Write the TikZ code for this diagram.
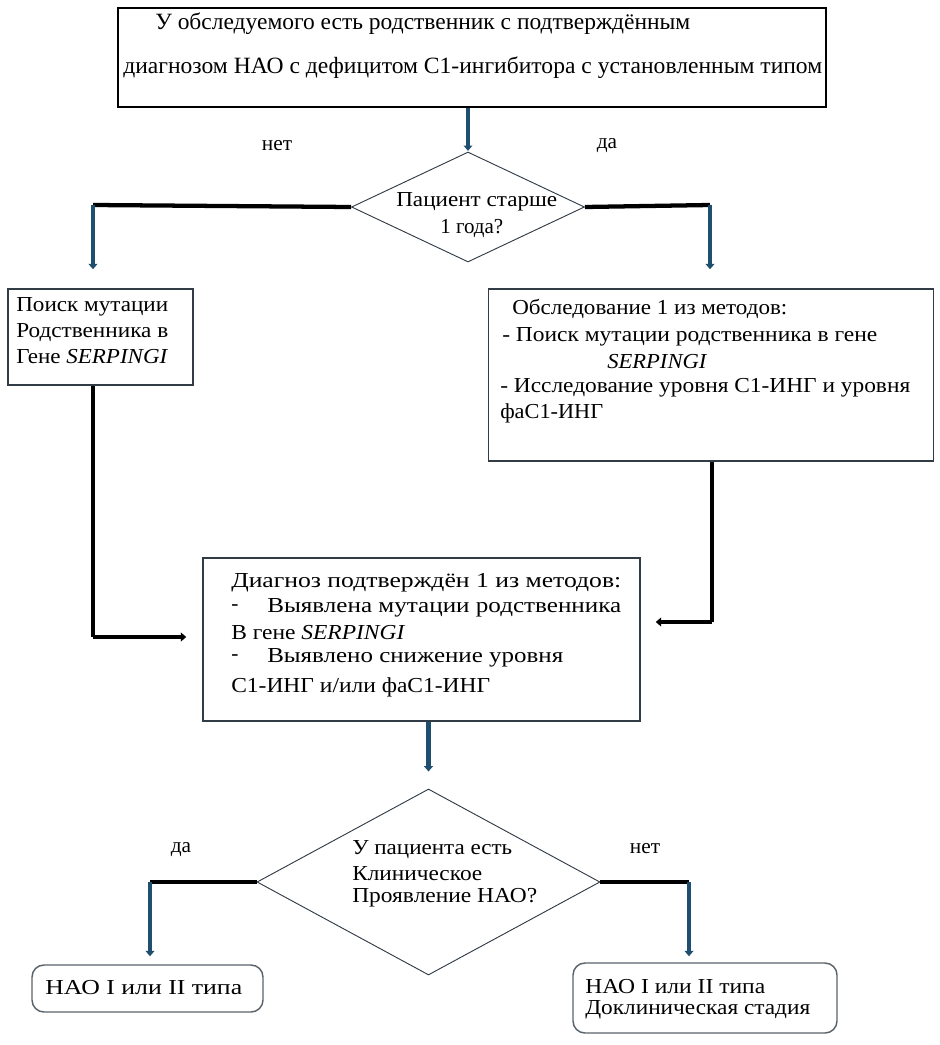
\documentclass[tikz,border=0pt]{standalone}
\usepackage{fontspec}
\usepackage{graphicx}
\setmainfont{Liberation Serif}
\usetikzlibrary{arrows.meta,shapes.geometric}
\definecolor{tealline}{RGB}{31,78,110}
\definecolor{boxline}{RGB}{50,60,70}
% place text between x-positions #1 and #2 (pixels), stretched horizontally only
\newcommand{\fw}[3]{\resizebox{\dimexpr(#2pt-#1pt)*3/4\relax}{\height}{#3}}
\tikzset{
  px/.style={x=0.75pt,y=-0.75pt},
  box/.style={draw=boxline,line width=1.1pt,inner sep=0pt},
  topbox/.style={draw=black,line width=1.2pt,inner sep=0pt},
  rbox/.style={draw=boxline!80,line width=1.1pt,rounded corners=9pt,inner sep=0pt},
  dia/.style={diamond,draw=boxline,line width=0.7pt,inner sep=0pt},
  txt/.style={anchor=west,inner sep=0pt,font=\fontsize{16}{18}\selectfont},
  lbl/.style={inner sep=0pt,font=\fontsize{16}{18}\selectfont},
  blk/.style={draw=black,line width=3.2pt},
  tarr/.style={draw=tealline,line width=3.6pt,-{Triangle[length=4pt,width=6.5pt]}},
  barr/.style={draw=black,line width=3.2pt,-{Triangle[length=4pt,width=6.5pt]}},
}
\begin{document}
\begin{tikzpicture}[px]
\useasboundingbox (0,0) rectangle (939,1045);
% boxes
\node[topbox,minimum width={708*0.75pt},minimum height={99*0.75pt}] (top) at (472,57.5) {};
\node[box,minimum width={185*0.75pt},minimum height={96*0.75pt}] (lb) at (100.5,337) {};
\node[box,minimum width={445*0.75pt},minimum height={172*0.75pt}] (rb) at (711,375) {};
\node[box,minimum width={437*0.75pt},minimum height={163*0.75pt}] (cb) at (421.5,639.5) {};
\node[rbox,minimum width={231*0.75pt},minimum height={47*0.75pt}] (bl) at (147.5,988.5) {};
\node[rbox,minimum width={264*0.75pt},minimum height={70*0.75pt}] (br) at (705,998) {};
\node[dia,minimum width={233*0.75pt},minimum height={110*0.75pt}] (d1) at (468,207) {};
\node[dia,minimum width={343*0.75pt},minimum height={186*0.75pt}] (d2) at (428.5,882) {};
% texts
\node[txt,font=\fontsize{17.5}{20}\selectfont] (t1) at (155,24) {\fw{155}{690}{У обследуемого есть родственник с подтверждённым}};
\node[txt,font=\fontsize{17.5}{20}\selectfont] (t2) at (123,68) {\fw{123}{822}{диагнозом НАО с дефицитом С1-ингибитора с установленным типом}};
\node[lbl] (no1) at (277,146) {нет};
\node[lbl] (yes1) at (607,146) {да};
\node[txt] (d1a) at (396,202) {\fw{396}{557}{Пациент старше}};
\node[txt] (d1b) at (440,228) {\fw{440}{503}{1 года?}};
\node[txt] (l1) at (16,307) {\fw{16}{168}{Поиск мутации}};
\node[txt] (l2) at (16,333) {\fw{16}{168}{Родственника в}};
\node[txt] (l3) at (16,357) {\fw{16}{168}{Гене \textit{SERPINGI}}};
\node[txt] (r1) at (512,309) {\fw{512}{787}{Обследование 1 из методов:}};
\node[txt] (r2) at (502,337) {\fw{502}{877}{- Поиск мутации родственника в гене}};
\node[txt] (r3) at (607,362) {\fw{607}{707}{\textit{SERPINGI}}};
\node[txt] (r4) at (500,388) {\fw{500}{910}{- Исследование уровня С1-ИНГ и уровня}};
\node[txt] (r5) at (500,413) {\fw{500}{603}{фаС1-ИНГ}};
\node[txt] (c1) at (231,583) {\fw{231}{621}{Диагноз подтверждён 1 из методов:}};
\node[txt] (c2a) at (231,608) {-};
\node[txt] (c2) at (267,608) {\fw{267}{621}{Выявлена мутации родственника}};
\node[txt] (c3) at (231,633) {\fw{231}{405}{В гене \textit{SERPINGI}}};
\node[txt] (c4a) at (231,658) {-};
\node[txt] (c4) at (267,658) {\fw{267}{563}{Выявлено снижение уровня}};
\node[txt] (c5) at (231,687) {\fw{231}{490}{С1-ИНГ и/или фаС1-ИНГ}};
\node[lbl] (yes2) at (181,850) {да};
\node[lbl] (no2) at (645,849) {нет};
\node[txt] (e1) at (352,850) {\fw{352}{512}{У пациента есть}};
\node[txt] (e2) at (352,874) {\fw{352}{482}{Клиническое}};
\node[txt] (e3) at (352,898) {\fw{352}{537}{Проявление НАО?}};
\node[txt] (b1) at (45,988) {\fw{45}{242}{НАО I или II типа}};
\node[txt] (b2) at (585,987) {\fw{585}{765}{НАО I или II типа}};
\node[txt] (b3) at (585,1010) {\fw{585}{810}{Доклиническая стадия}};
% connectors
\coordinate (k1) at (93,205);
\coordinate (k2) at (710,205);
\coordinate (k3) at (93,637);
\coordinate (k4) at (712,622);
\coordinate (k5) at (150,882);
\coordinate (k6) at (689,882);
\draw[tarr,shorten >=0.5pt] (top.south -| d1.north) -- (d1.north);
\draw[blk] (d1.west) -- (k1);
\draw[tarr,shorten >={19*0.75pt}] (k1) -- (k1 |- lb.north);
\draw[blk] (d1.east) -- (k2);
\draw[tarr,shorten >={19*0.75pt}] (k2) -- (k2 |- rb.north);
\draw[blk] (lb.south -| k3) -- (k3);
\draw[barr,shorten >={16*0.75pt}] (k3) -- (k3 -| cb.west);
\draw[blk] (rb.south -| k4) -- (k4);
\draw[barr,shorten >={15*0.75pt}] (k4) -- (k4 -| cb.east);
\draw[tarr,shorten >={17*0.75pt}] (cb.south -| d2.north) -- (d2.north);
\draw[blk] (d2.west) -- (k5);
\draw[tarr,shorten >={8*0.75pt}] (k5) -- (k5 |- bl.north);
\draw[blk] (d2.east) -- (k6);
\draw[tarr,shorten >={6*0.75pt}] (k6) -- (k6 |- br.north);
\end{tikzpicture}
\end{document}
